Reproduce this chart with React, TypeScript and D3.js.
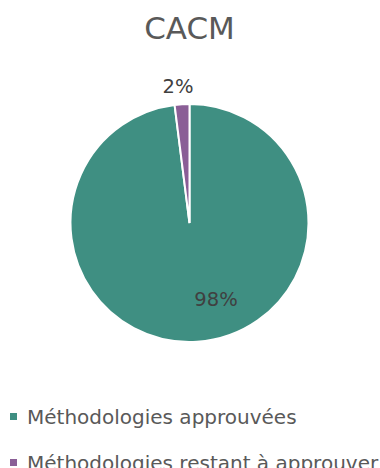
import React from "react";
import * as d3 from "d3";

const title = "CACM";
const categories = ["Méthodologies approuvées", "Méthodologies restant à approuver"];
const values = [98, 2];
const colors = ["#3F8F82", "#8A5E96"];

const W = 380;
const H = 468;

export default function App() {
  const cx = 189.5;
  const cy = 223;
  const r = 119;
  const pie = d3.pie<number>().sort(null).value((d) => d);
  const arcs = pie(values);
  const arc = d3.arc<d3.PieArcDatum<number>>().innerRadius(0).outerRadius(r);
  const total = d3.sum(values);
  const labelPos = [
    [26.5, 83],
    [-11.5, -130],
  ];
  const font = "'DejaVu Sans', sans-serif";
  const legendY = d3.scalePoint<string>().domain(categories).range([413, 459]);
  return (
    <svg width={W} height={H} style={{ position: "absolute", left: 0, top: 0 }}>
      <rect width={W} height={H} fill="#fff" />
      <text x={cx} y={39} textAnchor="middle" fontFamily={font} fontSize={31} fill="#595959">
        {title}
      </text>
      <g transform={`translate(${cx},${cy})`}>
        {arcs.map((a, i) => (
          <path key={i} d={arc(a) || ""} fill={colors[i]} stroke="#fff" strokeWidth={2} />
        ))}
        {arcs.map((a, i) => (
          <text
            key={"l" + i}
            x={labelPos[i][0]}
            y={labelPos[i][1]}
            textAnchor="middle"
            fontFamily={font}
            fontSize={19.5}
            fill="#404040"
          >
            {Math.round((a.data / total) * 100)}%
          </text>
        ))}
      </g>
      {categories.map((c, i) => (
        <g key={c} transform={`translate(10,${legendY(c)})`}>
          <rect x={0} y={0} width={7} height={7} fill={colors[i]} />
          <text x={17} y={10.5} fontFamily={font} fontSize={20} fill="#595959">
            {c}
          </text>
        </g>
      ))}
    </svg>
  );
}
